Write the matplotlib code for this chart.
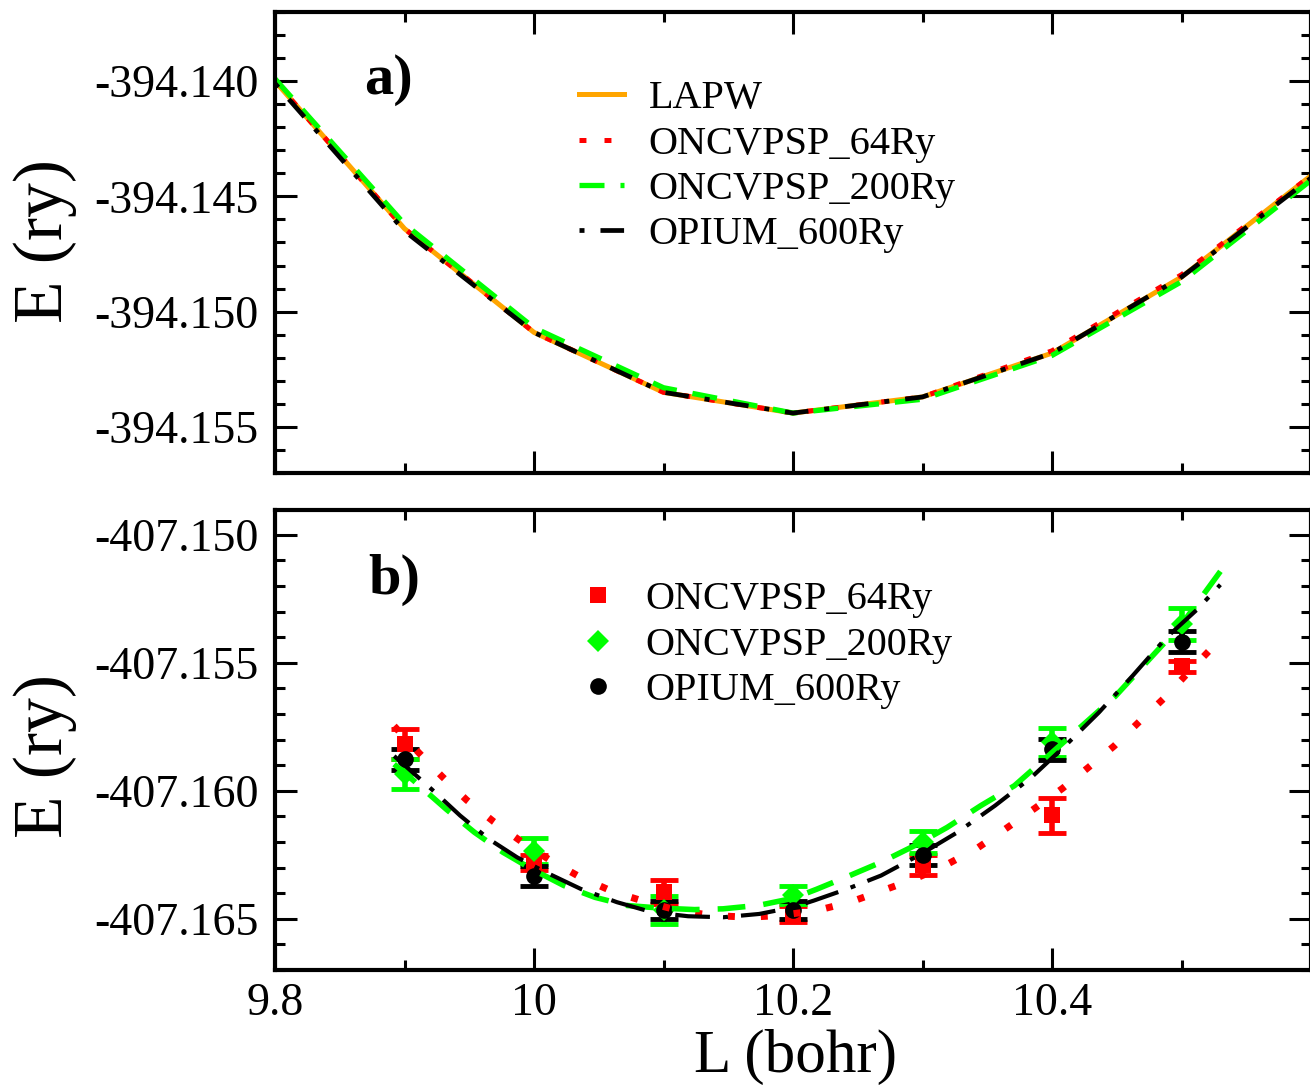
import matplotlib
matplotlib.use('Agg')
import matplotlib.pyplot as plt
from matplotlib.ticker import MultipleLocator, FormatStrFormatter, FuncFormatter

plt.rcParams['font.family'] = ['Liberation Serif', 'DejaVu Serif']
plt.rcParams['axes.unicode_minus'] = False
plt.rcParams['lines.scale_dashes'] = False

# panel a) - total energy curves
lTop = [9.8, 9.9, 10.0, 10.1, 10.2, 10.3, 10.4, 10.5, 10.6]
eLapw = [-394.1400, -394.1464, -394.1509, -394.1535, -394.1544, -394.1537, -394.1518, -394.1485, -394.1441]
eOncv64 = [-394.1400, -394.1464, -394.1509, -394.1535, -394.1544, -394.1537, -394.1517, -394.1484, -394.1441]
eOncv200 = [-394.1399, -394.1462, -394.1507, -394.1533, -394.1544, -394.1538, -394.1519, -394.1487, -394.1443]
eOpium = [-394.1401, -394.1465, -394.1509, -394.1535, -394.1544, -394.1537, -394.1518, -394.1485, -394.1442]

# panel b) - points with error bars
lPts = [9.9, 10.0, 10.1, 10.2, 10.3, 10.4, 10.5]
pts64 = [-407.15818, -407.16280, -407.16395, -407.16481, -407.16290, -407.16095, -407.15514]
err64 = [0.00058, 0.00030, 0.00047, 0.00030, 0.00040, 0.00068, 0.00023]
pts200 = [-407.15935, -407.16236, -407.16465, -407.16407, -407.16200, -407.15811, -407.15347]
err200 = [0.00058, 0.00050, 0.00055, 0.00035, 0.00043, 0.00055, 0.00062]
ptsOpium = [-407.15877, -407.16333, -407.16465, -407.16465, -407.16251, -407.15838, -407.15417]
errOpium = [0.00040, 0.00040, 0.00035, 0.00035, 0.00040, 0.00040, 0.00040]

# panel b) - fitted curves (read off the picture)
lFit64 = [9.892, 9.911, 9.929, 9.948, 9.969, 9.991, 10.013, 10.036, 10.061, 10.087, 10.112, 10.138,
          10.166, 10.190, 10.218, 10.244, 10.269, 10.294, 10.318, 10.342, 10.364, 10.386, 10.408,
          10.428, 10.448, 10.468, 10.487, 10.505, 10.524]
eFit64 = [-407.15747, -407.15851, -407.15944, -407.16036, -407.16121, -407.16201, -407.16273,
          -407.16338, -407.16394, -407.16435, -407.16468, -407.16487, -407.16494, -407.16487,
          -407.16468, -407.16435, -407.16390, -407.16344, -407.16290, -407.16225, -407.16149,
          -407.16071, -407.15991, -407.15909, -407.15825, -407.15727, -407.15636, -407.15539,
          -407.15439]
lFit200 = [9.892, 9.907, 9.932, 9.954, 9.976, 9.998, 10.023, 10.047, 10.072, 10.097, 10.124, 10.146,
           10.174, 10.200, 10.218, 10.242, 10.268, 10.294, 10.319, 10.345, 10.371, 10.397, 10.423,
           10.449, 10.475, 10.501, 10.531]
eFit200 = [-407.15896, -407.15960, -407.16071, -407.16162, -407.16240, -407.16305, -407.16370,
           -407.16416, -407.16448, -407.16458, -407.16464, -407.16461, -407.16447, -407.16420,
           -407.16385, -407.16335, -407.16279, -407.16214, -407.16143, -407.16058, -407.15980,
           -407.15864, -407.15747, -407.15630, -407.15487, -407.15344, -407.15136]
lFitOpium = [9.892, 9.921, 9.943, 9.965, 9.987, 10.009, 10.036, 10.064, 10.091, 10.119, 10.146,
             10.174, 10.200, 10.216, 10.242, 10.268, 10.299, 10.327, 10.356, 10.384, 10.410,
             10.436, 10.462, 10.488, 10.512, 10.530]
eFitOpium = [-407.15864, -407.15994, -407.16097, -407.16188, -407.16260, -407.16318, -407.16383,
             -407.16435, -407.16474, -407.16490, -407.16494, -407.16481, -407.16455, -407.16429,
             -407.16383, -407.16331, -407.16247, -407.16162, -407.16058, -407.15948, -407.15825,
             -407.15695, -407.15552, -407.15403, -407.15292, -407.15195]

labels = ["ONCVPSP_64Ry", "ONCVPSP_200Ry", "OPIUM_600Ry"]

RED = '#ff0000'
GREEN = '#00ff00'
ORANGE = '#ffa500'

dotStyle = (0, (5, 13))
dashStyle = (0, (18, 11.5))
dashDotStyle = (0, (3.6, 11.5, 17, 11.5))


def styleAxes(ax, yMajor, yFmt):
    for s in ax.spines.values():
        s.set_linewidth(3)
    ax.set_xlim(9.8, 10.6)
    ax.xaxis.set_major_locator(MultipleLocator(0.2))
    ax.xaxis.set_minor_locator(MultipleLocator(0.1))
    ax.yaxis.set_major_locator(MultipleLocator(yMajor))
    ax.yaxis.set_minor_locator(MultipleLocator(yMajor / 5))
    ax.yaxis.set_major_formatter(FormatStrFormatter(yFmt))
    ax.tick_params(which='both', direction='in', top=True, right=True, width=2.2)
    ax.tick_params(which='major', length=16, labelsize=33, pad=12)
    ax.tick_params(which='minor', length=7)
    ax.tick_params(axis='x', pad=9)


fig = plt.figure(figsize=(13.1, 10.85), dpi=100)
W, H = 1310.0, 1085.0
axTop = fig.add_axes([275 / W, 1 - 473 / H, 1036 / W, 461 / H])
axBot = fig.add_axes([275 / W, 1 - 970 / H, 1036 / W, 460 / H])

# ---- a)
axTop.plot(lTop, eLapw, color=ORANGE, lw=3.6, label="LAPW")
axTop.plot(lTop, eOncv64, color=RED, lw=3.6, ls=dotStyle, label=labels[0])
axTop.plot(lTop, eOncv200, color=GREEN, lw=3.8, ls=dashStyle, label=labels[1])
axTop.plot(lTop, eOpium, color='black', lw=3.4, ls=dashDotStyle, label=labels[2])
styleAxes(axTop, 0.005, '%.3f')
axTop.set_ylim(-394.157, -394.137)
axTop.tick_params(labelbottom=False)
axTop.set_ylabel("E (ry)", fontsize=50, va='center', ha='center')
axTop.yaxis.set_label_coords(-0.222, 0.503)
axTop.text(0.086, 0.852, "a)", transform=axTop.transAxes, fontsize=42,
           fontweight='bold', va='center', ha='left')
axTop.legend(loc='upper left', bbox_to_anchor=(0.293, 0.852), frameon=False, fontsize=29,
             handlelength=1.12, handletextpad=0.62, labelspacing=0.2, borderpad=0,
             borderaxespad=0)

# ---- b)
barKw = dict(fmt='none', elinewidth=4, capsize=10, capthick=3.5)
axBot.errorbar(lPts, pts64, yerr=err64, ecolor=RED, **barKw)
axBot.errorbar(lPts, pts200, yerr=err200, ecolor=GREEN, **barKw)
axBot.errorbar(lPts, ptsOpium, yerr=errOpium, ecolor='black', **barKw)
axBot.plot(lPts, pts64, 's', color=RED, ms=11, mew=0, label=labels[0])
axBot.plot(lPts, pts200, 'D', color=GREEN, ms=11, mew=0, label=labels[1])
axBot.plot(lPts, ptsOpium, 'o', color='black', ms=12, mew=0, label=labels[2])
axBot.plot(lFit64, eFit64, color=RED, lw=5, ls=(0, (5, 18.7)))
axBot.plot(lFit200, eFit200, color=GREEN, lw=4, ls=(0, (20, 13)))
axBot.plot(lFitOpium, eFitOpium, color='black', lw=3, ls=(0, (25, 9.4, 3.6, 9.4)))
styleAxes(axBot, 0.005, '%.3f')
axBot.set_ylim(-407.167, -407.14903)
axBot.xaxis.set_major_formatter(FuncFormatter(lambda v, p: '' if v > 10.5 else '%g' % round(v, 1)))
axBot.set_ylabel("E (ry)", fontsize=50, va='center', ha='center')
axBot.yaxis.set_label_coords(-0.222, 0.465)
axBot.set_xlabel("L (bohr)", fontsize=44, va='center', ha='center')
axBot.xaxis.set_label_coords(0.502, -0.19)
axBot.text(0.09, 0.848, "b)", transform=axBot.transAxes, fontsize=42,
           fontweight='bold', va='center', ha='left')
axBot.legend(loc='upper left', bbox_to_anchor=(0.29, 0.845), frameon=False, fontsize=29,
             handlelength=1.12, handletextpad=0.62, labelspacing=0.2, borderpad=0,
             borderaxespad=0, numpoints=1)

fig.savefig("out.png", dpi=100)
